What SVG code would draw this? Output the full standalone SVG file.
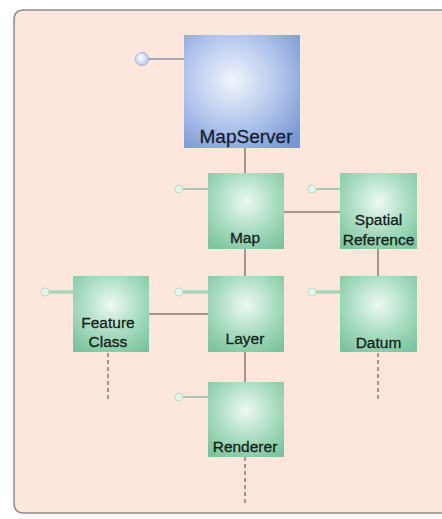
<svg xmlns="http://www.w3.org/2000/svg" width="442" height="519" viewBox="0 0 442 519">
<defs>
<radialGradient id="gBlue" cx="0.42" cy="0.4" r="0.75">
<stop offset="0" stop-color="#f2f5fc"/>
<stop offset="0.55" stop-color="#b0c4ec"/>
<stop offset="1" stop-color="#7896d4"/>
</radialGradient>
<radialGradient id="gGreen" cx="0.5" cy="0.38" r="0.72">
<stop offset="0" stop-color="#eef9f3"/>
<stop offset="0.55" stop-color="#a8dcc0"/>
<stop offset="1" stop-color="#7cc49f"/>
</radialGradient>
<radialGradient id="gBall" cx="0.4" cy="0.4" r="0.6">
<stop offset="0" stop-color="#ffffff"/>
<stop offset="1" stop-color="#b9c9ee"/>
</radialGradient>
</defs>
<style>
.lbl{font-family:"Liberation Sans",Arial,sans-serif;font-size:15.5px;fill:#14211b;stroke:#14211b;stroke-width:0.3;text-anchor:middle}
.big{font-family:"Liberation Sans",Arial,sans-serif;font-size:19px;fill:#16202f;stroke:#16202f;stroke-width:0.3;text-anchor:middle}
.conn{stroke:#8a7a72;stroke-width:1.5;fill:none}
.dash{stroke:#8a7a72;stroke-width:1.5;fill:none;stroke-dasharray:4 3}
.stem{stroke:#8fbfa4;stroke-width:1.5}
.stemT{stroke:#a9d6bb;stroke-width:3.5}
.ball{fill:#e6f6ec;stroke:#b7dcc6;stroke-width:1}
.box{fill:url(#gGreen)}
</style>
<rect width="442" height="519" fill="#ffffff"/>
<path d="M460 10 H24 Q14 10 14 20 V503 Q14 513 24 513 H460" fill="#fde6dc" stroke="#8f8a88" stroke-width="1.5"/>
<g id="connectors">
<line class="conn" x1="245" y1="148" x2="245" y2="173"/>
<line class="conn" x1="245" y1="249" x2="245" y2="276"/>
<line class="conn" x1="245" y1="352" x2="245" y2="382"/>
<line class="conn" x1="284" y1="212" x2="340" y2="212"/>
<line class="conn" x1="378" y1="249" x2="378" y2="276"/>
<line class="conn" x1="149" y1="314" x2="208" y2="314"/>
<line class="dash" x1="108" y1="353" x2="108" y2="400"/>
<line class="dash" x1="378" y1="353" x2="378" y2="400"/>
<line class="dash" x1="245" y1="457" x2="245" y2="505"/>
</g>
<g id="mapserver">
<line x1="148" y1="59" x2="184" y2="59" stroke="#8590a8" stroke-width="1.5"/>
<circle cx="142" cy="59" r="6.5" fill="url(#gBall)" stroke="#9fb0d6" stroke-width="1"/>
<rect x="184" y="35" width="116" height="113" fill="url(#gBlue)"/>
<text class="big" x="246" y="143">MapServer</text>
</g>
<g id="map">
<line class="stem" x1="183" y1="189" x2="208" y2="189"/>
<circle class="ball" cx="179" cy="189" r="4"/>
<rect class="box" x="208" y="173" width="76" height="76"/>
<text class="lbl" x="245" y="243">Map</text>
</g>
<g id="spatialreference">
<line class="stem" x1="316" y1="189" x2="340" y2="189"/>
<circle class="ball" cx="312" cy="189" r="4"/>
<rect class="box" x="340" y="173" width="77" height="76"/>
<text class="lbl" x="378.5" y="225">Spatial</text>
<text class="lbl" x="378.5" y="245">Reference</text>
</g>
<g id="featureclass">
<line class="stemT" x1="49" y1="292" x2="73" y2="292"/>
<circle class="ball" cx="45" cy="292" r="4"/>
<rect class="box" x="73" y="276" width="76" height="76"/>
<text class="lbl" x="108" y="328">Feature</text>
<text class="lbl" x="108" y="347">Class</text>
</g>
<g id="layer">
<line class="stemT" x1="183" y1="292" x2="208" y2="292"/>
<circle class="ball" cx="179" cy="292" r="4"/>
<rect class="box" x="208" y="276" width="76" height="76"/>
<text class="lbl" x="245" y="344">Layer</text>
</g>
<g id="datum">
<line class="stemT" x1="316" y1="292" x2="340" y2="292"/>
<circle class="ball" cx="312" cy="292" r="4"/>
<rect class="box" x="340" y="276" width="77" height="76"/>
<text class="lbl" x="378.5" y="348">Datum</text>
</g>
<g id="renderer">
<line class="stem" x1="183" y1="397" x2="208" y2="397"/>
<circle class="ball" cx="179" cy="397" r="4"/>
<rect class="box" x="208" y="382" width="76" height="75"/>
<text class="lbl" x="245" y="452">Renderer</text>
</g>
</svg>
